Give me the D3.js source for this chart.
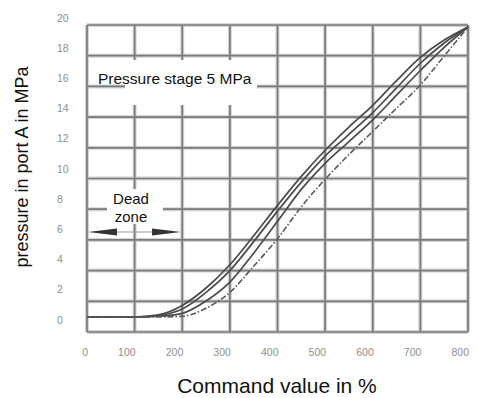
<!DOCTYPE html>
<html>
<head>
<meta charset="utf-8">
<script src="https://cdn.jsdelivr.net/npm/d3@7"></script>
<style>
  html, body { margin: 0; padding: 0; background: #fff; }
  svg { display: block; font-family: "Liberation Sans", Arial, sans-serif; }
</style>
</head>
<body>
<svg id="chart" width="477" height="398"></svg>
<script>
// command value (x) where the curves were read
const command = [0, 100, 150, 200, 250, 300, 350, 400, 450, 500, 550, 600, 650, 700, 750, 800];

// pressure in port A (MPa)
const curveUpper  = [0, 0, 0.15, 0.8, 2.0, 3.6, 5.6, 7.7, 9.7, 11.5, 13.1, 14.6, 16.3, 17.9, 19.1, 20];
const curveMiddle = [0, 0, 0.1, 0.55, 1.7, 3.2, 5.2, 7.3, 9.3, 11.1, 12.6, 14.1, 15.8, 17.5, 18.9, 20];
const curveLower  = [0, 0, 0.05, 0.25, 1.1, 2.4, 4.4, 6.6, 8.8, 10.6, 12.1, 13.6, 15.3, 17.0, 18.6, 20];
const curveDashed = [0, 0, 0, 0.05, 0.6, 1.7, 3.5, 5.4, 7.6, 9.5, 11.2, 12.8, 14.4, 16.0, 18.0, 20];

const xTicks = [0, 100, 200, 300, 400, 500, 600, 700, 800];
const yTicks = [0, 2, 4, 6, 8, 10, 12, 14, 16, 18, 20];

const svg = d3.select("#chart");

const x = d3.scaleLinear().domain([0, 800]).range([87, 468]);
// grid, labels and curves are slightly out of register in the scan
const yGrid = d3.scaleLinear().domain([0, 20]).range([332, 25]);
const yLabel = d3.scaleLinear().domain([0, 20]).range([320, 18]);
const y = d3.scaleLinear().domain([0, 20]).range([317, 27]);

// grid (soft halo + core line to mimic the scan)
const grid = svg.append("g").attr("class", "grid");
const drawGrid = (color, width) => {
  grid.append("g").selectAll("line")
    .data(yTicks)
    .join("line")
    .attr("x1", x(0)).attr("x2", x(800))
    .attr("y1", d => yGrid(d)).attr("y2", d => yGrid(d))
    .attr("stroke", color).attr("stroke-width", width);
  grid.append("g").selectAll("line")
    .data(xTicks)
    .join("line")
    .attr("x1", d => x(d)).attr("x2", d => x(d))
    .attr("y1", yGrid(20)).attr("y2", yGrid(0))
    .attr("stroke", color).attr("stroke-width", width);
};
drawGrid("#d4d4d4", 4);
drawGrid("#7a7a7a", 1.7);

// tick labels
svg.append("g").selectAll("text")
  .data(xTicks)
  .join("text")
  .attr("x", d => x(d) + 1)
  .attr("y", 356)
  .attr("text-anchor", "end")
  .attr("fill", "#8f8f8f")
  .style("font-size", "10.5px")
  .text(d => d);

svg.append("g").selectAll("text")
  .data(yTicks)
  .join("text")
  .attr("x", 57)
  .attr("y", d => yLabel(d))
  .attr("dy", "0.35em")
  .attr("fill", "#8f8f8f")
  .style("font-size", "10.5px")
  .text(d => d);

// white boxes behind the annotations
svg.append("rect").attr("x", 125).attr("y", 60).attr("width", 132).attr("height", 45).attr("fill", "#fff");
svg.append("rect").attr("x", 107).attr("y", 189).attr("width", 56).attr("height", 35).attr("fill", "#fff");

// curves
const line = d3.line()
  .x((d, i) => x(command[i]))
  .y(d => y(d))
  .curve(d3.curveMonotoneX);

const curves = svg.append("g").attr("fill", "none");
[curveUpper, curveMiddle, curveLower].forEach(s => {
  curves.append("path")
    .attr("d", line(s))
    .attr("stroke", "#4a4a4a")
    .attr("stroke-width", 1.7);
});
curves.append("path")
  .attr("d", line(curveDashed))
  .attr("stroke", "#5a5a5a")
  .attr("stroke-width", 1.6)
  .attr("stroke-dasharray", "6,2,1.5,2");

// annotations
svg.append("text")
  .attr("x", 98).attr("y", 84)
  .attr("fill", "#111")
  .style("font-size", "15.5px")
  .text("Pressure stage 5 MPa");

const dead = svg.append("text")
  .attr("text-anchor", "middle")
  .attr("fill", "#111")
  .style("font-size", "15px");
dead.append("tspan").attr("x", 131).attr("y", 204).text("Dead");
dead.append("tspan").attr("x", 131).attr("y", 222).text("zone");

// dead zone arrows
svg.append("line")
  .attr("x1", 116).attr("x2", 153).attr("y1", 232).attr("y2", 232)
  .attr("stroke", "#999").attr("stroke-width", 1);
svg.append("path")
  .attr("d", "M88,232 L117,228.5 L117,235.5 Z")
  .attr("fill", "#333");
svg.append("path")
  .attr("d", "M181,232 L152,228.5 L152,235.5 Z")
  .attr("fill", "#333");

// axis titles
svg.append("text")
  .attr("x", 277).attr("y", 393)
  .attr("text-anchor", "middle")
  .attr("fill", "#111")
  .style("font-size", "21px")
  .text("Command value in %");

svg.append("text")
  .attr("transform", "translate(28,167) rotate(-90)")
  .attr("text-anchor", "middle")
  .attr("fill", "#111")
  .style("font-size", "18px")
  .text("pressure in port A in MPa");
</script>
</body>
</html>
